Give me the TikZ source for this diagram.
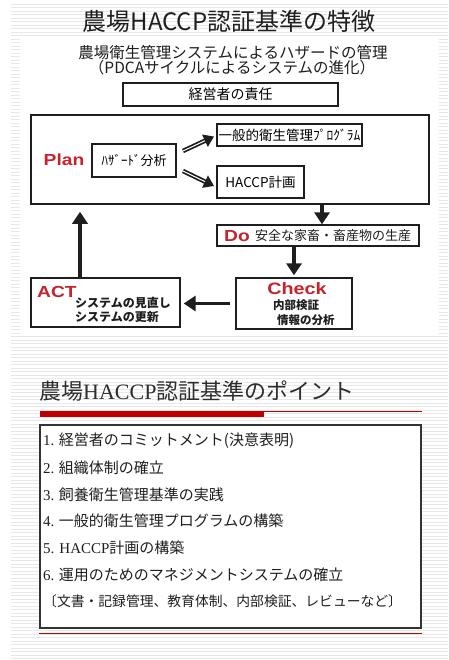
\documentclass[tikz,border=0pt]{standalone}
\usepackage{fontspec}
\setmainfont{Noto Sans CJK JP}
\newfontfamily\lab{Liberation Sans}[FakeStretch=1.2]
\newfontfamily\lser{Liberation Serif}
\usetikzlibrary{arrows.meta,calc}
\definecolor{pdred}{HTML}{C8232D}
\definecolor{ink}{HTML}{1E1E1E}
\definecolor{barred}{HTML}{C00000}
\definecolor{stripe}{HTML}{E8E8E8}
\newcommand{\fsz}[1]{\fontsize{#1}{#1}\selectfont}
\begin{document}
\begin{tikzpicture}[x=1pt,y=-1pt,
  box/.style={draw=ink, line width=1.3pt, fill=white, inner sep=0pt, anchor=center},
  arr/.style={draw=ink, line width=3.5pt, -{Triangle[length=12pt,width=15pt]}},
  darr/.style={draw=ink, line width=4.5pt, -{Triangle[length=10pt,width=13pt]}},
  lbl/.style={text=pdred, font=\lab\bfseries\fsz{16}, inner sep=0pt},
  jt/.style={text=ink, inner sep=0pt},
  item/.style={anchor=west, text=black!88, inner sep=0pt, font=\fsz{15}}]
\fill[white] (0,0) rectangle (448,660);
\useasboundingbox (0,0) rectangle (448,660);
\foreach \yy in {4,7.5,...,660} \draw[stripe, line width=0.8pt] (11,\yy) -- (448,\yy);
\fill[white] (20,38) rectangle (439,336);
% titles
\node[jt, text=black!88] (title) at (229,21) {\fsz{24}農場HACCP認証基準の特徴};
\node[jt] (sub1) at (233,52.5) {\fsz{15.5}農場衛生管理システムによるハザードの管理};
\node[jt] (sub2) at (232,67.5) {\fsz{15.5}（PDCAサイクルによるシステムの進化）};
% diagram
\node[box, minimum width=215pt, minimum height=23pt] (resp) at (230.5,94.5) {\fsz{14}経営者の責任};
\node[box, line width=1.5pt, minimum width=398pt, minimum height=89pt] (plan) at (230,159.5) {};
\node[lbl] (planl) at (64,160) {Plan};
\node[box, minimum width=84pt, minimum height=33pt] (haz) at (134,160.5) {\fsz{13}ﾊｻﾞｰﾄﾞ分析};
\node[box, minimum width=145pt, minimum height=22pt] (gen) at (289.5,135) {\fsz{13.5}一般的衛生管理ﾌﾟﾛｸﾞﾗﾑ};
\node[box, minimum width=87pt, minimum height=32pt] (hac) at (260.5,182) {\fsz{13.5}HACCP計画};
\node[box, minimum width=202pt, minimum height=21pt] (do) at (318,235.5) {};
\node[lbl, anchor=west] (dol) at (224,236) {Do};
\node[jt, anchor=west] (dot) at (255,236) {\fsz{13}安全な家畜・畜産物の生産};
\node[box, minimum width=116pt, minimum height=51pt] (check) at (294,303.5) {};
\node[lbl, font=\lab\bfseries\fsz{16.5}] (checkl) at (297,289) {Check};
\node[jt, anchor=west] (chk1) at (273,305) {\fsz{11.5}\bfseries 内部検証};
\node[jt, anchor=west] (chk2) at (277,320) {\fsz{11.5}\bfseries 情報の分析};
\node[box, minimum width=149pt, minimum height=49pt] (act) at (105.5,302.5) {};
\node[lbl, anchor=west] (actl) at (37,292) {ACT};
\node[jt, anchor=west] (act1) at (75,303) {\fsz{12}\bfseries システムの見直し};
\node[jt, anchor=west] (act2) at (75,317) {\fsz{12}\bfseries システムの更新};
% arrows
\coordinate (d1s) at (183,151);
\coordinate (d1e) at (214,136.5);
\coordinate (d2s) at (183,171);
\coordinate (d2e) at (214,186);
\draw[darr] (d1s) -- (d1e);
\draw[darr] (d2s) -- (d2e);
\draw[white, line width=1pt, shorten >=10pt] (d1s) -- (d1e);
\draw[white, line width=1pt, shorten >=10pt] (d2s) -- (d2e);
\draw[arr] ([xshift=92pt]plan.south) -- ([xshift=4pt]do.north);
\draw[arr, shorten >=2pt] ([xshift=-24pt]do.south) -- (check.north);
\draw[arr, shorten <=5pt, shorten >=3pt] (check.west) -- (check.west -| act.east);
\coordinate (au) at ([xshift=-25.5pt]act.north);
\draw[arr, shorten >=7pt] (au) -- (au |- plan.south);
% lower part
\node[anchor=west, text=black!82, inner sep=0pt] (t2) at (39,391) {\fsz{22}農場{\lser HACCP}認証基準のポイント};
\fill[barred] (40,411) rectangle (264,417);
\draw[barred, line width=1pt] (264,411.5) -- (422,411.5);
\node[draw=black!80, line width=1.2pt, fill=white, minimum width=381pt, minimum height=203pt, inner sep=0pt] (list) at (230.5,526.5) {};
\draw[barred, line width=1pt] (list.south west) ++(0,5) coordinate (rl) -- (rl -| list.south east);
\node[item] (i1) at (43,441) {{\lser 1.} 経営者のコミットメント(決意表明)};
\node[item] (i2) at (43,467.7) {{\lser 2.} 組織体制の確立};
\node[item] (i3) at (43,494.4) {{\lser 3.} 飼養衛生管理基準の実践};
\node[item] (i4) at (43,521.1) {{\lser 4.} 一般的衛生管理プログラムの構築};
\node[item] (i5) at (43,547.8) {{\lser 5. HACCP}計画の構築};
\node[item] (i6) at (43,574.5) {{\lser 6.} 運用のためのマネジメントシステムの確立};
\node[item, font=\fsz{13.8}] (i7) at (43,601.2) {〔文書・記録管理、教育体制、内部検証、レビューなど〕};
\end{tikzpicture}
\end{document}
